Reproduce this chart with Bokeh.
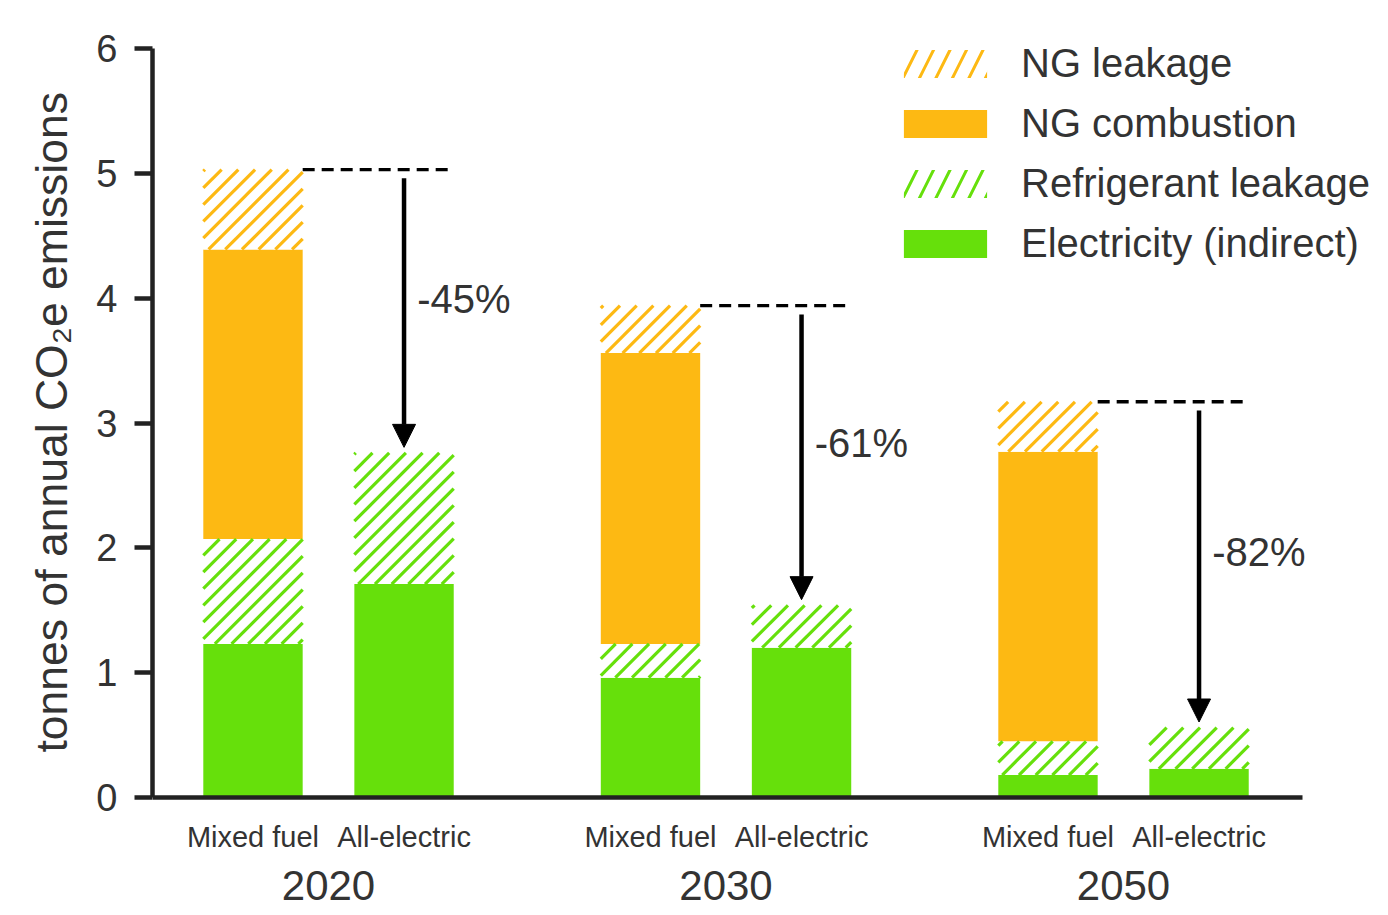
import math
from bokeh.plotting import figure
from bokeh.models import (ColumnDataSource, LinearAxis, FixedTicker, Range1d,
                          Legend, LegendItem, Arrow, NormalHead, Title)
from bokeh.core.properties import value
from bokeh.embed import file_html
from bokeh.resources import INLINE

# ---------------- data ----------------
years = ["2020", "2030", "2050"]
scenarios = ["Mixed fuel", "All-electric"]
# bar order: 2020 MF, 2020 AE, 2030 MF, 2030 AE, 2050 MF, 2050 AE
electricity = [1.23, 1.71, 0.96, 1.20, 0.18, 0.23]
refrigerant = [0.84, 1.05, 0.27, 0.34, 0.27, 0.33]
ng_combustion = [2.32, 0.00, 2.33, 0.00, 2.32, 0.00]
ng_leakage = [0.64, 0.00, 0.38, 0.00, 0.40, 0.00]
reduction_labels = ["-45%", "-61%", "-82%"]
y_ticks = [0, 1, 2, 3, 4, 5, 6]
y_label = "tonnes of annual CO\u2082e emissions"

# ---------------- style ----------------
FONT = "Liberation Sans"
ORANGE = "#FDB913"
GREEN = "#66E00B"
TEXT = "#333333"
AXIS = "#222222"

offset = 0.19
bar_w = 0.25
X_START, X_END, X_AXIS_END = -0.4428, 2.6465, 2.4503
Y_START, Y_END = -0.937, 6.3845
W, H = 1380, 914
LEFT = 152

xs = []
labels = []
for gi in range(len(years)):
    for si, s in enumerate(scenarios):
        xs.append(gi + (-offset if si == 0 else offset))
        labels.append(s)

b0 = [0.0] * len(xs)
t1 = [a + b for a, b in zip(b0, electricity)]
t2 = [a + b for a, b in zip(t1, refrigerant)]
t3 = [a + b for a, b in zip(t2, ng_combustion)]
t4 = [a + b for a, b in zip(t3, ng_leakage)]
totals = t4

src = ColumnDataSource(dict(x=xs, b0=b0, t1=t1, t2=t2, t3=t3, t4=t4))

p = figure(width=W, height=H, output_backend="svg", toolbar_location=None,
           x_axis_type=None, y_axis_type=None,
           x_range=Range1d(X_START, X_END), y_range=Range1d(Y_START, Y_END),
           min_border_left=LEFT, min_border_right=0, min_border_top=0,
           min_border_bottom=0)
p.outline_line_color = None
p.background_fill_color = "white"
p.border_fill_color = "white"

r_elec = p.vbar(x="x", bottom="b0", top="t1", width=bar_w, source=src,
                fill_color=GREEN, line_color=None)
r_ref = p.vbar(x="x", bottom="t1", top="t2", width=bar_w, source=src,
               fill_color="white", line_color=None)
r_comb = p.vbar(x="x", bottom="t2", top="t3", width=bar_w, source=src,
                fill_color=ORANGE, line_color=None)
r_leak = p.vbar(x="x", bottom="t3", top="t4", width=bar_w, source=src,
                fill_color="white", line_color=None)

# 45-degree "/" hatching of the leakage layers (computed from the bar extents)
PX_X = (W - LEFT) / (X_END - X_START)
PX_Y = H / (Y_END - Y_START)
SP = 16.7  # horizontal hatch spacing in pixels


def hatch_lines(bottoms, tops):
    x0s, y0s, x1s, y1s = [], [], [], []
    for xc, ya, yb in zip(xs, bottoms, tops):
        if yb - ya <= 0:
            continue
        Xa, Xb = (xc - bar_w / 2) * PX_X, (xc + bar_w / 2) * PX_X
        Ya, Yb = ya * PX_Y, yb * PX_Y
        for k in range(math.floor((Ya - Xb) / SP) - 1, math.ceil((Yb - Xa) / SP) + 2):
            c = k * SP
            lo, hi = max(Xa, Ya - c), min(Xb, Yb - c)
            if hi - lo > 0.8:
                x0s.append(lo / PX_X)
                y0s.append((lo + c) / PX_Y)
                x1s.append(hi / PX_X)
                y1s.append((hi + c) / PX_Y)
    return ColumnDataSource(dict(x0=x0s, y0=y0s, x1=x1s, y1=y1s))


p.segment(x0="x0", y0="y0", x1="x1", y1="y1", source=hatch_lines(t1, t2),
          line_color=GREEN, line_width=3.2)
p.segment(x0="x0", y0="y0", x1="x1", y1="y1", source=hatch_lines(t3, t4),
          line_color=ORANGE, line_width=3.2)

# legend proxies for the hatched layers (zero-height, invisible in the plot)
lg_leak = p.vbar(x="x", bottom="b0", top="b0", width=bar_w, source=src,
                 fill_color="white", line_color=None, hatch_pattern="/",
                 hatch_color=ORANGE, hatch_scale=33, hatch_weight=3)
lg_ref = p.vbar(x="x", bottom="b0", top="b0", width=bar_w, source=src,
                fill_color="white", line_color=None, hatch_pattern="/",
                hatch_color=GREEN, hatch_scale=33, hatch_weight=3)

mf = [0, 2, 4]
ae = [1, 3, 5]

# dashed reference lines
seg = ColumnDataSource(dict(x0=[xs[i] + bar_w / 2 for i in mf],
                            x1=[xs[j] + bar_w / 2 for j in ae],
                            y=[totals[i] for i in mf]))
p.segment(x0="x0", y0="y", x1="x1", y1="y", source=seg, line_color="black",
          line_width=3.4, line_dash="12 7")

# arrows
arr = ColumnDataSource(dict(x=[xs[j] for j in ae],
                            ys=[totals[i] - 0.07 for i in mf],
                            ye=[totals[j] + 0.045 for j in ae]))
p.add_layout(Arrow(end=NormalHead(size=23, fill_color="black", line_color="black",
                                  line_width=1),
                   x_start="x", y_start="ys", x_end="x", y_end="ye",
                   line_width=4.5, line_color="black", source=arr))

# percentage labels
pct = ColumnDataSource(dict(x=[xs[j] + 0.033 for j in ae],
                            y=[(totals[i] + totals[j]) / 2 + 0.1 for i, j in zip(mf, ae)],
                            t=reduction_labels))
p.text(x="x", y="y", text="t", source=pct, text_font=value(FONT),
       text_font_size="40px", text_color=TEXT, text_baseline="middle",
       text_align="left")

# y axis
yax = LinearAxis(ticker=FixedTicker(ticks=y_ticks, minor_ticks=[]), bounds=(0, 6))
yax.axis_line_width = 4.5
yax.axis_line_color = AXIS
yax.major_tick_line_width = 4.5
yax.major_tick_line_color = AXIS
yax.major_tick_out = 18
yax.major_tick_in = 0
yax.minor_tick_out = 0
yax.minor_tick_in = 0
yax.major_label_text_font = FONT
yax.major_label_text_font_size = "38px"
yax.major_label_text_color = TEXT
yax.major_label_standoff = 17
p.add_layout(yax, "left")

# y axis title (placed so that it is centred on the 0-6 axis, not the frame)
ytitle = Title(text=y_label, align="left", offset=162, standoff=36,
               text_font=FONT, text_font_size="44.5px", text_font_style="normal",
               text_color=TEXT)
p.add_layout(ytitle, "left")

# x axis: scenario labels
xax = LinearAxis(ticker=FixedTicker(ticks=xs, minor_ticks=[]),
                 major_label_overrides={x: l for x, l in zip(xs, labels)},
                 bounds=(X_START, X_AXIS_END), fixed_location=0)
xax.axis_line_width = 4.5
xax.axis_line_color = AXIS
xax.major_tick_out = 0
xax.major_tick_in = 0
xax.minor_tick_out = 0
xax.minor_tick_in = 0
xax.major_label_text_font = FONT
xax.major_label_text_font_size = "29px"
xax.major_label_text_color = TEXT
xax.major_label_standoff = 23
p.add_layout(xax, "below")

# x axis: years
gx = list(range(len(years)))
yrax = LinearAxis(ticker=FixedTicker(ticks=gx, minor_ticks=[]),
                  major_label_overrides={g: y for g, y in zip(gx, years)},
                  bounds=(X_START, X_AXIS_END), fixed_location=0)
yrax.axis_line_color = None
yrax.major_tick_out = 0
yrax.major_tick_in = 0
yrax.minor_tick_out = 0
yrax.minor_tick_in = 0
yrax.major_label_text_font = FONT
yrax.major_label_text_font_size = "42px"
yrax.major_label_text_color = TEXT
yrax.major_label_standoff = 73
p.add_layout(yrax, "below")

# legend
legend = Legend(items=[LegendItem(label="NG leakage", renderers=[lg_leak]),
                       LegendItem(label="NG combustion", renderers=[r_comb]),
                       LegendItem(label="Refrigerant leakage", renderers=[lg_ref]),
                       LegendItem(label="Electricity (indirect)", renderers=[r_elec])],
                location=(741, 648), orientation="vertical",
                glyph_width=104, glyph_height=35, label_height=29,
                label_standoff=24, spacing=15, padding=0, margin=0,
                label_text_font=FONT, label_text_font_size="40px",
                label_text_color=TEXT, border_line_color=None,
                background_fill_alpha=0)
p.add_layout(legend)

open("out.html", "w").write(file_html(p, INLINE))
